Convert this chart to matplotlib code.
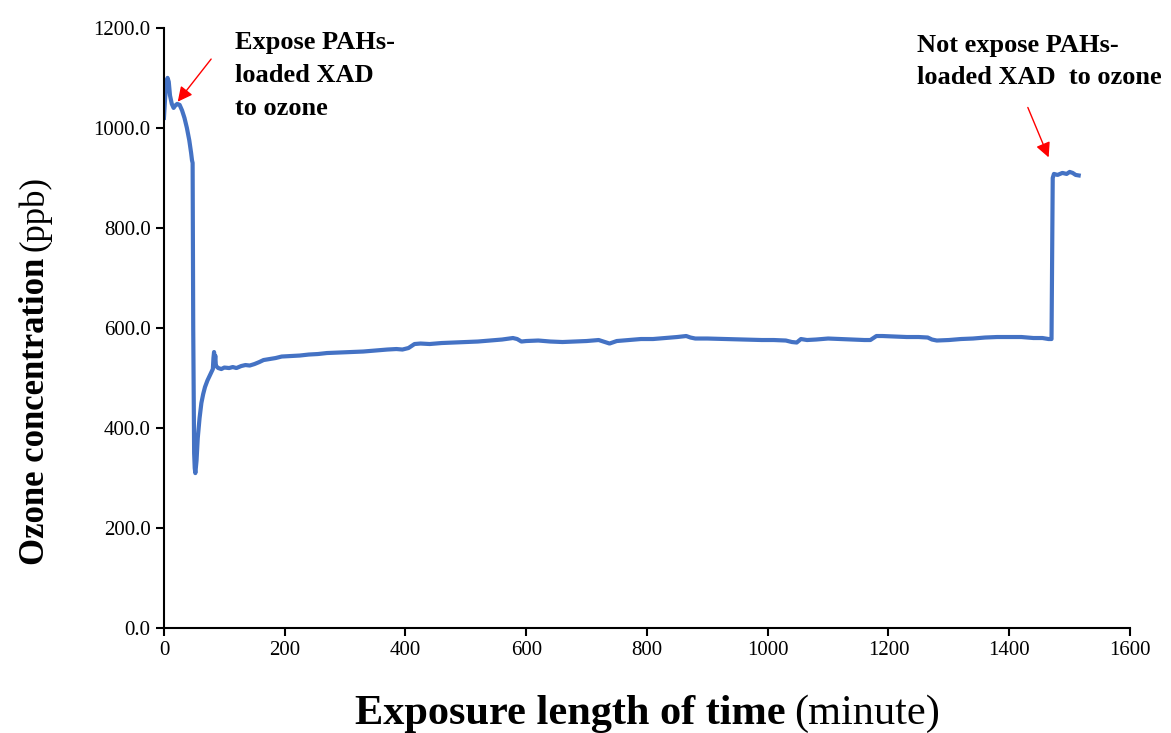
import matplotlib.pyplot as plt
import numpy as np

plt.rcParams['font.family'] = 'Liberation Serif'

# data (minute, ppb), ten per row
time_min = [0, 2, 4, 6, 8, 10, 13, 16, 19, 22,
            26, 30, 34, 38, 42, 45, 46.5, 47.5, 48.5, 50,
            51, 52, 54, 56, 59, 62, 65, 68, 72, 76,
            79, 81, 82, 83, 84, 85, 86, 88, 90, 95,
            100, 108, 114, 120, 128, 135, 142, 150, 158, 165,
            175, 185, 195, 210, 225, 240, 255, 270, 290, 310,
            330, 350, 370, 385, 395, 405, 410, 415, 425, 440,
            460, 480, 500, 520, 540, 560, 578, 585, 592, 600,
            620, 640, 660, 680, 700, 720, 730, 738, 750, 770,
            790, 810, 830, 850, 865, 872, 880, 900, 930, 960,
            990, 1010, 1030, 1040, 1048, 1055, 1065, 1080, 1100, 1120,
            1140, 1160, 1170, 1180, 1190, 1210, 1230, 1250, 1265, 1272,
            1280, 1300, 1320, 1340, 1360, 1380, 1400, 1420, 1440, 1455,
            1465, 1470, 1471, 1472, 1474, 1480, 1488, 1495, 1500, 1505,
            1510, 1515]
ozone_ppb = [1020, 1060, 1090, 1100, 1092, 1065, 1048, 1040, 1045, 1048,
             1046, 1035, 1020, 1000, 975, 950, 935, 930, 600, 350,
             320, 310, 335, 380, 420, 450, 468, 482, 495, 505,
             512, 518, 540, 552, 530, 545, 525, 522, 520, 518,
             521, 520, 522, 520, 524, 526, 525, 528, 532, 536,
             538, 540, 543, 544, 545, 547, 548, 550, 551, 552,
             553, 555, 557, 558, 557, 560, 564, 568, 569, 568,
             570, 571, 572, 573, 575, 577, 580, 578, 573, 574,
             575, 573, 572, 573, 574, 576, 572, 569, 574, 576,
             578, 578, 580, 582, 584, 581, 579, 579, 578, 577,
             576, 576, 575, 572, 571, 578, 576, 577, 579, 578,
             577, 576, 576, 584, 584, 583, 582, 582, 581, 577,
             575, 576, 578, 579, 581, 582, 582, 582, 580, 580,
             578, 578, 750, 900, 908, 906, 910, 908, 912, 910,
             906, 905]

x_ticks = [0, 200, 400, 600, 800, 1000, 1200, 1400, 1600]
y_ticks = [0, 200, 400, 600, 800, 1000, 1200]

W, H = 1171, 733
fig = plt.figure(figsize=(W / 100, H / 100), dpi=100)
ax = fig.add_axes([0.140, 0.143, 0.825, 0.819])

ax.plot(time_min, ozone_ppb, color='#4472C4', lw=3, solid_joinstyle='round')

ax.set_xlim(0, 1600)
ax.set_ylim(0, 1200)
ax.set_xticks(x_ticks)
ax.set_yticks(y_ticks)
ax.set_yticklabels(['%.1f' % v for v in y_ticks])
ax.tick_params(labelsize=15, direction='out', length=6, width=1.5)
for s in ['top', 'right']:
    ax.spines[s].set_visible(False)
for s in ['left', 'bottom']:
    ax.spines[s].set_linewidth(1.5)

# axis labels: bold part + regular part
renderer = fig.canvas.get_renderer()

xb = fig.text(355 / W, 1 - 724 / H, 'Exposure length of time', fontsize=30.5,
              fontweight='bold', ha='left', va='baseline')
wb = xb.get_window_extent(renderer).width
fig.text((355 + wb + 8) / W, 1 - 724 / H, '(minute)', fontsize=30.5,
         ha='left', va='baseline')

yb = fig.text(44 / W, 1 - 565 / H, 'Ozone concentration', fontsize=25,
              fontweight='bold', rotation=90, rotation_mode='anchor',
              ha='left', va='baseline')
hb = yb.get_window_extent(renderer).height
fig.text(44 / W, 1 - (565 - hb - 7) / H, '(ppb)', fontsize=25, rotation=90,
         rotation_mode='anchor', ha='left', va='baseline')

# annotations
ax.annotate('', xy=(20, 1048), xytext=(81, 1142),
            arrowprops=dict(arrowstyle='-|>', color='red', lw=1, mutation_scale=22))
ax.text(118, 1193, 'Expose PAHs-\nloaded XAD\nto ozone', fontsize=19,
        fontweight='bold', va='top', ha='left', linespacing=1.55)

ax.annotate('', xy=(1467, 936), xytext=(1429, 1046),
            arrowprops=dict(arrowstyle='-|>', color='red', lw=1, mutation_scale=22))
ax.text(1247, 1188, 'Not expose PAHs-\nloaded XAD  to ozone', fontsize=19,
        fontweight='bold', va='top', ha='left', linespacing=1.5)

plt.savefig('out.png', dpi=100)
